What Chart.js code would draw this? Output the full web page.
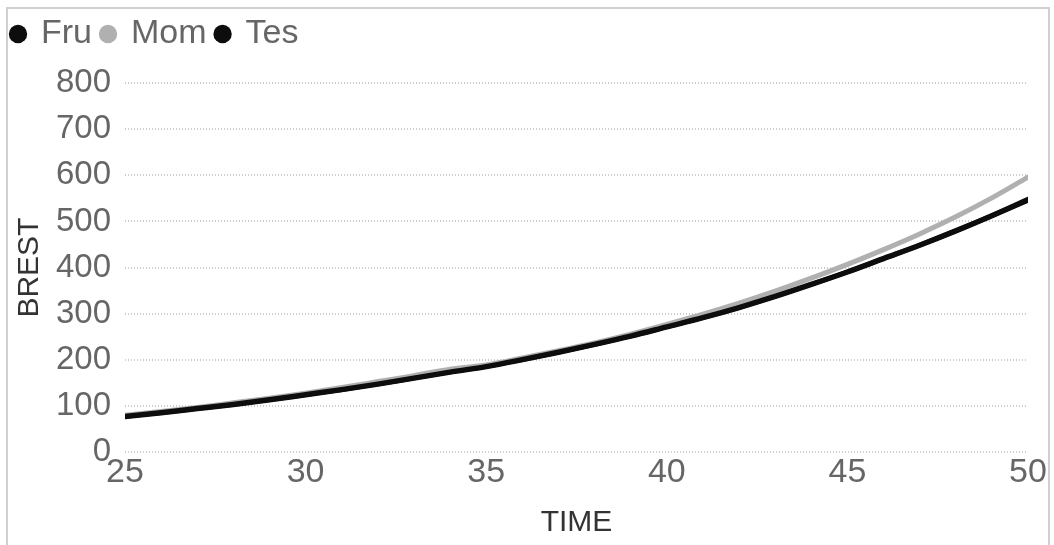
<!DOCTYPE html>
<html>
<head>
<meta charset="utf-8">
<script src="https://cdn.jsdelivr.net/npm/chart.js@4/dist/chart.umd.min.js"></script>
<style>
  html, body { margin: 0; padding: 0; background: #fff; }
  #wrap { position: relative; width: 1054px; height: 545px; overflow: hidden; }
  #frame { position: absolute; left: 6px; top: 7px; width: 1044px; height: 545px;
           border: 2px solid #d0d0d0; box-sizing: border-box; pointer-events: none; }
  canvas { position: absolute; left: 0; top: 0; }
</style>
</head>
<body>
<div id="wrap">
  <canvas id="chart" width="1054" height="545"></canvas>
  <div id="frame"></div>
</div>
<script>
// Age in years (x) and BREST readings for each series
const time = [25, 26, 27, 28, 29, 30, 31, 32, 33, 34, 35, 36, 37, 38, 39, 40, 41, 42, 43, 44, 45, 46, 47, 48, 49, 50];
const fru  = [78, 86, 95, 104, 114, 125, 136, 148, 161, 174, 186, 201, 217, 234, 252, 272, 292, 314, 338, 364, 391, 420, 449, 480, 513, 548];
const mom  = [80, 88, 97, 107, 117, 128, 140, 153, 166, 180, 189, 204, 220, 237, 256, 277, 299, 323, 349, 377, 407, 439, 473, 510, 551, 596];
const tes  = [77, 85, 94, 103, 113, 124, 135, 147, 160, 173, 185, 200, 216, 233, 251, 271, 291, 313, 337, 363, 390, 419, 448, 479, 512, 546];
const seriesNames = ['Fru', 'Mom', 'Tes'];
const seriesColors = ['#0d0d0d', '#b0b0b0', '#0d0d0d'];
const yTicks = [0, 100, 200, 300, 400, 500, 600, 700, 800];
const xTicks = [25, 30, 35, 40, 45, 50];

const toPoints = vals => vals.map((v, i) => ({ x: time[i], y: v }));

const datasets = [fru, mom, tes].map((vals, i) => ({
  label: seriesNames[i],
  data: toPoints(vals),
  borderColor: seriesColors[i],
  backgroundColor: seriesColors[i],
  borderWidth: 5,
  pointRadius: 0,
  pointHoverRadius: 0,
  cubicInterpolationMode: 'monotone',
  borderCapStyle: 'round',
  fill: false
}));

const PAD_LEFT = 2;
const CHART_LEFT = 125;

// Leaves extra room between the legend row and the top of the plot
const legendSpacer = {
  id: 'legendSpacer',
  beforeInit(chart) {
    const fit = chart.legend.fit;
    chart.legend.fit = function () {
      fit.call(this);
      this.height += 22;
    };
  }
};

new Chart(document.getElementById('chart'), {
  type: 'line',
  data: { datasets },
  plugins: [legendSpacer],
  options: {
    responsive: false,
    animation: false,
    events: [],
    layout: { padding: { top: 7, left: PAD_LEFT, right: 26, bottom: 4 } },
    plugins: {
      tooltip: { enabled: false },
      legend: {
        display: true,
        position: 'top',
        align: 'start',
        labels: {
          usePointStyle: true,
          pointStyle: 'circle',
          boxWidth: 12,
          boxHeight: 13,
          padding: 10,
          color: '#666',
          font: { family: 'Liberation Sans', size: 34 },
          generateLabels: chart =>
            Chart.defaults.plugins.legend.labels.generateLabels(chart)
              .map(l => ({ ...l, lineWidth: 0 }))
        }
      }
    },
    scales: {
      x: {
        type: 'linear',
        min: 25,
        max: 50,
        afterBuildTicks: s => { s.ticks = xTicks.map(v => ({ value: v })); },
        ticks: {
          color: '#666',
          padding: 0,
          maxRotation: 0,
          font: { family: 'Liberation Sans', size: 34 }
        },
        grid: { display: false, drawTicks: false },
        border: { display: false },
        title: {
          display: true,
          text: 'TIME',
          color: '#333',
          padding: { top: 12, bottom: 0 },
          font: { family: 'Liberation Sans', size: 30 }
        }
      },
      y: {
        min: 0,
        max: 800,
        afterBuildTicks: s => { s.ticks = yTicks.map(v => ({ value: v })); },
        afterFit: s => { s.width = CHART_LEFT - PAD_LEFT; },
        ticks: {
          color: '#666',
          padding: 14,
          font: { family: 'Liberation Sans', size: 33 }
        },
        grid: {
          color: '#cccccc',
          lineWidth: 2,
          drawTicks: false
        },
        border: { display: false, dash: [1, 2] },
        title: {
          display: true,
          text: 'BREST',
          color: '#333',
          padding: { top: 10, bottom: 0 },
          font: { family: 'Liberation Sans', size: 30 }
        }
      }
    }
  }
});
</script>
</body>
</html>
